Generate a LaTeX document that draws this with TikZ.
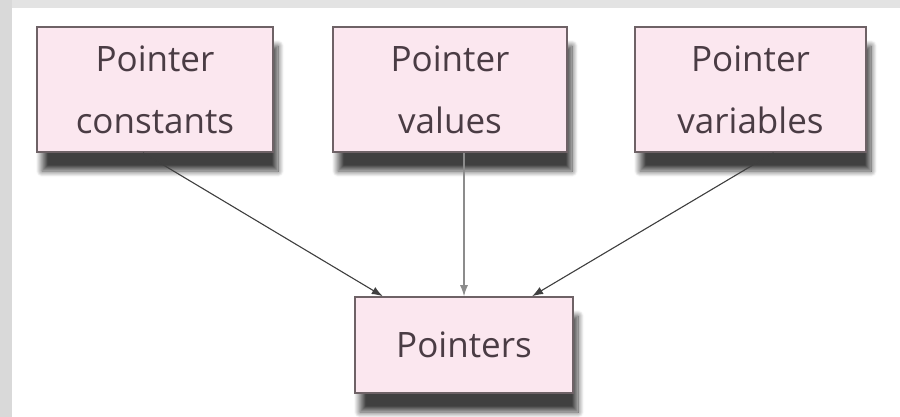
\documentclass[tikz,border=0pt]{standalone}
\usepackage{fontspec}
\setmainfont{Open Sans}
\usetikzlibrary{shadows.blur,calc,arrows.meta}
\definecolor{boxfill}{HTML}{FBE7EF}
\definecolor{boxline}{HTML}{6E6266}
\definecolor{txt}{HTML}{4A3C44}
\tikzset{
  pbox/.style={draw=boxline, line width=1.6pt, fill=boxfill, inner sep=0pt,
    align=center, text=txt, font=\fontsize{35}{62}\selectfont,
    blur shadow={shadow xshift=5pt, shadow yshift=-19pt, shadow blur radius=6pt, shadow blur steps=12, shadow opacity=75}},
  conn/.style={line width=1.1pt, -{Latex[length=11pt,width=8pt]}}
}
\begin{document}
\begin{tikzpicture}[x=1pt,y=-1pt]
\useasboundingbox (0,0) rectangle (900,417);
\fill[gray!22] (0,0) rectangle (900,8);
\fill[gray!30] (0,0) rectangle (12,417);
\node[pbox, minimum width=236pt, minimum height=125pt] (b1) at (155,89.5) {Pointer\\constants};
\node[pbox, minimum width=234pt, minimum height=125pt] (b2) at (450,89.5) {Pointer\\values};
\node[pbox, minimum width=231pt, minimum height=125pt] (b3) at (750.5,89.5) {Pointer\\variables};
\node[pbox, minimum width=218pt, minimum height=96pt] (p) at (464,345) {Pointers};
\draw[conn, draw=black!75, fill=black!75] ($(b1.south)+(-12,0)$) -- ($(p.north west)!0.13!(p.north east)$);
\draw[conn, draw=black!45, fill=black!80] ($(b2.south)+(14,0)$) -- (p.north);
\draw[conn, draw=black!75, fill=black!75] ($(b3.south)+(23,0)$) -- ($(p.north west)!0.81!(p.north east)$);
\end{tikzpicture}
\end{document}
